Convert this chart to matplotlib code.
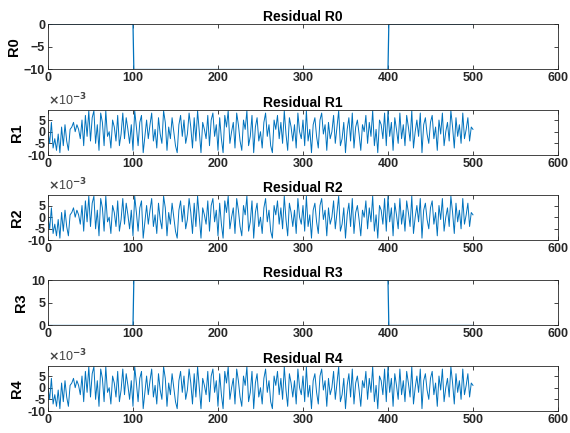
import numpy as np
import matplotlib
matplotlib.use("Agg")
import matplotlib.pyplot as plt
from matplotlib.ticker import FuncFormatter

# step residuals (breakpoints of the sample index)
step_x = [0, 100, 101, 400, 401, 500]
r0_vals = [0, 0, -10, -10, 0, 0]
r3_vals = [0, 0, 10, 10, 0, 0]

# noise residual in units of 1e-3, one value every 2 samples
noise = [0, -5, 4, -7, -3, -8, -1, -9, 2, -6, 3, -4, -8, 1, 2, 4, 0, 3, 1, -3, 5, -6, 7, -2, 9, -4,
	6, 9, -5, 3, -8, 8, 4, -6, 9, -2, 0, -7, 5, 2, -4, 7, -6, -1, 8, -3, 6, 1, -5, 3, -8,
	9, 2, -6, 4, 7, -9, -2, 5, -3, 3, 8, -4, 1, -7, 6, -1, -5, 9, 4, -8, 2, -3, 6, 0, -6,
	-9, 3, 7, -2, 5, -5, -1, 8, 2, -7, 6, -4, 9, 0, -9, 4, 1, -3, 7, -6, 5, 8, -2, 3, -8,
	6, -3, -9, 7, 2, 9, -5, 0, 4, -7, 8, 3, -4, -8, 5, 1, 9, -6, -2, 7, -9, 2, 6, -4, 0,
	-7, 4, 8, -2, 3, -6, -9, 5, 1, 7, -3, 4, -5, 9, -1, -8, 6, 2, -4, 3, -7, 8, 0, -3, 5,
	-6, 9, -4, 1, -9, 3, 6, -2, -7, 5, 8, -1, 3, -8, 4, -3, 0, 7, -5, 2, 9, -6, -3, 4, -9,
	1, 6, -4, 8, -7, 2, 5, -1, -8, 3, 0, 7, -5, 4, -2, 9, -6, 1, -9, 5, 3, -3, 8, -6, 9,
	-2, 4, -8, 6, 1, -5, 8, -3, 3, -6, 7, 2, -4, 9, -7, 0, 5, -2, 8, -9, 3, 6, -1, -5, 4,
	7, -3, 2, -8, 5, -1, 8, -6, 0, 4, -4, 9, 2, -7, 6, -2, 3, -5, 8, -3, 1, 6, -4, 2, 1]
noise_x = np.arange(len(noise)) * 2
noise_vals = np.array(noise) * 1e-3

titles = ["Residual R0", "Residual R1", "Residual R2", "Residual R3", "Residual R4"]
ylabels = ["R0", "R1", "R2", "R3", "R4"]

plt.rcParams['font.family'] = ['Liberation Sans', 'DejaVu Sans']
plt.rcParams['font.weight'] = 'bold'
blue = "#0072BD"
edge = "#262626"

fig = plt.figure(figsize=(5.7, 4.33), dpi=100)
bottoms = [0.8395, 0.642, 0.4446, 0.2483, 0.0508]

for i in range(5):
	ax = fig.add_axes([0.0842, bottoms[i], 0.8947, 0.105])
	if i == 0:
		ax.plot(step_x, r0_vals, color=blue, lw=0.9)
		ax.set_ylim(-10, 0)
		ax.set_yticks([-10, -5, 0])
	elif i == 3:
		ax.plot(step_x, r3_vals, color=blue, lw=0.9)
		ax.set_ylim(0, 10)
		ax.set_yticks([0, 5, 10])
	else:
		ax.plot(noise_x, noise_vals, color=blue, lw=0.7)
		ax.set_ylim(-10e-3, 9.5e-3)
		ax.set_yticks([-10e-3, -5e-3, 0, 5e-3])
		# MATLAB style exponent label
		ax.yaxis.set_major_formatter(FuncFormatter(lambda v, p: "%d" % round(v * 1e3)))
		ax.text(0.0, 1.03, r"$\times$10$^{-3}$", transform=ax.transAxes, fontsize=9,
			fontweight='normal', color='#444444', ha='left', va='bottom')
	ax.set_xlim(0, 600)
	ax.set_xticks(range(0, 601, 100))
	ax.set_title(titles[i], fontsize=10, fontweight='bold', pad=2)
	ax.set_ylabel(ylabels[i], fontsize=10.5, fontweight='bold', labelpad=2)
	ax.tick_params(direction='in', length=3, width=0.6, top=True, right=True,
		labelsize=9, pad=2, colors=edge)
	for s in ax.spines.values():
		s.set_color(edge)
		s.set_linewidth(0.6)

plt.savefig("out.png", dpi=100)
